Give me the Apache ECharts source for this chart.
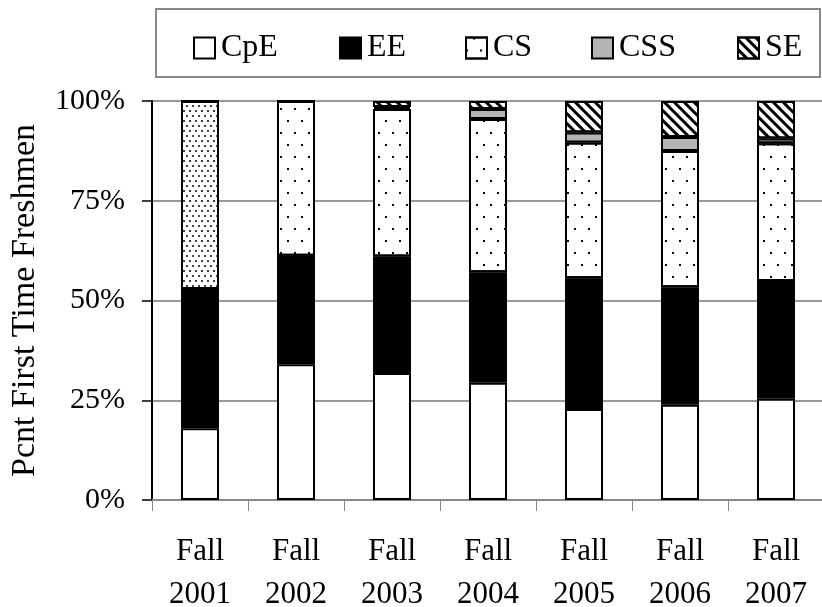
<!DOCTYPE html>
<html>
<head>
<meta charset="utf-8">
<script src="https://cdn.jsdelivr.net/npm/echarts@6/dist/echarts.min.js"></script>
<style>html,body{margin:0;padding:0;background:#fff}#c{width:822px;height:607px}</style>
</head>
<body>
<div id="c"></div>
<script>
const categories = ['Fall\n2001','Fall\n2002','Fall\n2003','Fall\n2004','Fall\n2005','Fall\n2006','Fall\n2007'];
const cpe = [18.0, 34.0, 31.8, 29.4, 22.8, 23.9, 25.4];
const ee  = [34.9, 27.2, 29.2, 27.7, 32.8, 29.4, 29.5];
const cs  = [47.1, 38.8, 37.0, 38.4, 34.0, 34.2, 34.5];
const css = [0.0, 0.0, 0.5, 2.5, 2.5, 3.5, 1.2];
const se  = [0.0, 0.0, 1.5, 2.0, 7.9, 9.0, 9.4];
const yTicks = [0, 25, 50, 75, 100];

const FONT = 'Liberation Serif';
const border = {borderColor:'#000', borderWidth:2};
const csDecal = {symbol:'rect', symbolSize:1, color:'#000', dashArrayX:[[2,12],[0,7,2,5]], dashArrayY:[2,10]};
const csDecalFine = {symbol:'rect', symbolSize:1, color:'#444', dashArrayX:[[2,4],[0,3,2,1]], dashArrayY:[2,3]};
const seDecal = {symbol:'rect', symbolSize:1, color:'#000', dashArrayX:[1,0], dashArrayY:[3,4], rotation:Math.PI/4};

const csData = cs.map((v,i)=> i===0 ? {value:v, itemStyle:{decal:csDecalFine}} : v);

const chart = echarts.init(document.getElementById('c'));
const names = ['CpE','EE','CS','CSS','SE'];
const legendLeft = [188, 334, 460, 586, 732];
chart.setOption({
  animation:false,
  backgroundColor:'#fff',
  grid:{left:152, top:101, right:-2, bottom:107, containLabel:false, outerBoundsMode:'none'},
  legend: names.map((n,i)=>({
    data:[{name:n, icon:'rect'}], left:legendLeft[i], top:27, itemWidth:21, itemHeight:21, itemGap:0,
    textStyle:{fontFamily:FONT, fontSize:32, color:'#000', padding:[0,0,0,1]},
    selectedMode:false
  })),
  graphic:[{type:'rect', shape:{x:156, y:9, width:664, height:68}, style:{fill:'none', stroke:'#888', lineWidth:2}, silent:true}],
  xAxis:{
    type:'category', data:categories,
    axisLine:{lineStyle:{color:'#888', width:2}},
    axisTick:{show:true, length:11, lineStyle:{color:'#888', width:1}},
    axisLabel:{fontFamily:FONT, fontSize:31, color:'#000', lineHeight:43, margin:30}
  },
  yAxis:{
    type:'value', min:0, max:100, interval:25,
    name:'Pcnt First Time Freshmen', nameLocation:'middle', nameGap:110,
    nameTextStyle:{fontFamily:FONT, fontSize:34, color:'#000'},
    axisLine:{show:true, lineStyle:{color:'#000', width:2}},
    axisTick:{show:true, length:10, lineStyle:{color:'#000', width:1.5}},
    axisLabel:{fontFamily:FONT, fontSize:30, color:'#000', margin:27,
      formatter:v=> yTicks.includes(v) ? v+'%' : ''},
    splitLine:{show:true, lineStyle:{color:'#999', width:2}}
  },
  series:[
    {name:'CpE', type:'bar', stack:'a', barWidth:38, data:cpe, itemStyle:Object.assign({color:'#fff'}, border)},
    {name:'EE', type:'bar', stack:'a', data:ee, itemStyle:Object.assign({color:'#000'}, border)},
    {name:'CS', type:'bar', stack:'a', data:csData, itemStyle:Object.assign({color:'#fff', decal:csDecal}, border)},
    {name:'CSS', type:'bar', stack:'a', data:css, itemStyle:Object.assign({color:'#b4b4b4'}, border)},
    {name:'SE', type:'bar', stack:'a', data:se, itemStyle:Object.assign({color:'#fff', decal:seDecal}, border)}
  ]
});
</script>
</body>
</html>
